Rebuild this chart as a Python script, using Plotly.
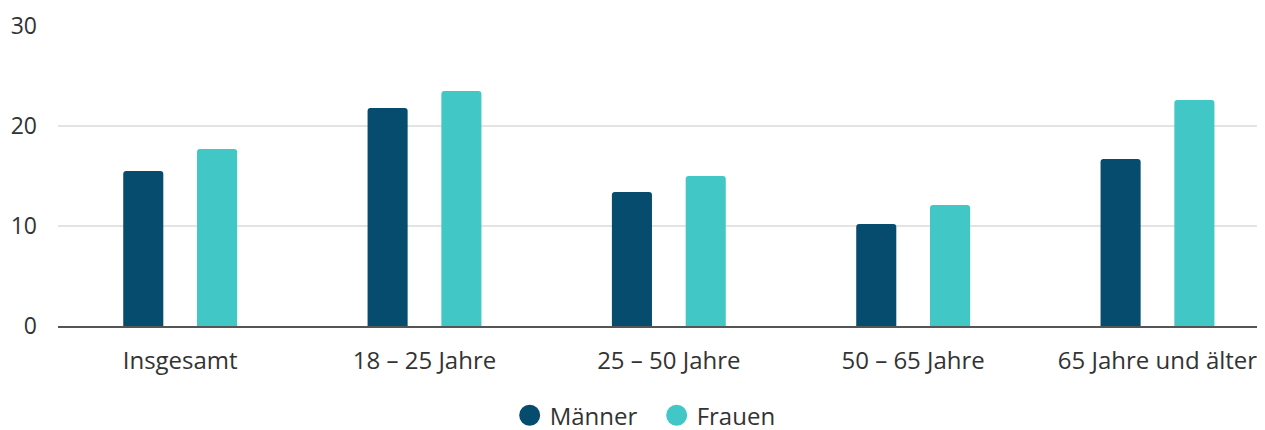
import plotly.graph_objects as go

categories = ["Insgesamt", "18 – 25 Jahre", "25 – 50 Jahre", "50 – 65 Jahre", "65 Jahre und älter"]
maenner = [15.5, 21.8, 13.4, 10.2, 16.7]
frauen = [17.7, 23.5, 15.0, 12.1, 22.6]
series_names = ["Männer", "Frauen"]
y_ticks = [0, 10, 20, 30]

c_m = "#064c6e"
c_f = "#41c7c6"
font_fam = "Open Sans, sans-serif"

fig = go.Figure()
fig.add_trace(go.Bar(x=categories, y=maenner, name=series_names[0], marker_color=c_m,
                     width=0.164, offset=-0.233, marker_line_width=0, showlegend=False))
fig.add_trace(go.Bar(x=categories, y=frauen, name=series_names[1], marker_color=c_f,
                     width=0.164, offset=0.069, marker_line_width=0, showlegend=False))
# legend entries with round markers
for nm, col in zip(series_names, [c_m, c_f]):
    fig.add_trace(go.Scatter(x=[None], y=[None], mode="markers", name=nm,
                             marker=dict(color=col, size=16, symbol="circle",
                                         line=dict(color=col, width=5))))

# page body has an 8px margin: size/margins compensate so plot lands as in reference
fig.update_layout(
    width=1257, height=430,
    margin=dict(l=50, r=0, t=17, b=112, autoexpand=False),
    plot_bgcolor="white", paper_bgcolor="white",
    barcornerradius=3,
    font=dict(family=font_fam, size=24, color="#333333"),
    showlegend=True,
    legend=dict(orientation="h", x=0.496, xanchor="center", y=-0.298, yanchor="middle",
                font=dict(size=24, color="#333333"), itemsizing="trace",
                traceorder="normal", itemwidth=30, entrywidth=102),
    xaxis=dict(type="category", range=[-0.5, 4.44], showgrid=False,
               showline=True, linecolor="#555555", linewidth=1.5,
               ticks="", ticklabelstandoff=12, tickfont=dict(size=24)),
    yaxis=dict(range=[0, 30.1], tickvals=y_ticks, showgrid=True, gridcolor="#e3e3e3",
               gridwidth=1.5, zeroline=False, showline=False, ticks="",
               ticklabelstandoff=20, tickfont=dict(size=23)),
)
fig.write_html("out.html")
